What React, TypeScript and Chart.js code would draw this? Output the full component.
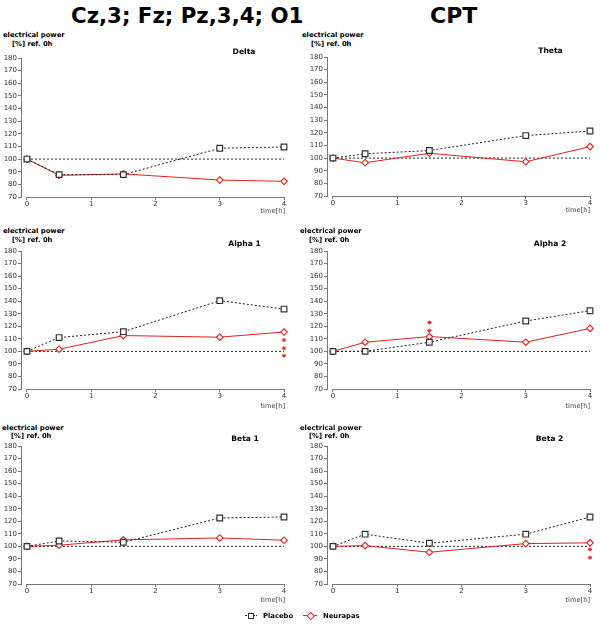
import React, { useEffect, useRef } from "react";
import { Chart, registerables } from "chart.js";
Chart.register(...registerables);

// ---------- data ----------
const TIMES = [0, 0.5, 1.5, 3, 4];
const X_TICKS = [0, 1, 2, 3, 4];
const Y_MIN = 70;
const Y_MAX = 180;
const Y_STEP = 10;
const REF_VALUE = 100;

const PANEL_TITLES = ["Delta", "Theta", "Alpha 1", "Alpha 2", "Beta 1", "Beta 2"];
const SERIES_NAMES = ["Placebo", "Neurapas"];

const deltaPlacebo = [100, 87.7, 87.7, 108.6, 109.6];
const deltaNeurapas = [100, 87.1, 88.3, 83.4, 82.4];
const thetaPlacebo = [100, 103.4, 106, 117.8, 121.4];
const thetaNeurapas = [100, 96.3, 103.8, 97.1, 109.1];
const alpha1Placebo = [100, 111, 115.7, 140.4, 133.7];
const alpha1Neurapas = [100, 101.7, 112.6, 111.3, 115.4];
const alpha2Placebo = [100, 100, 107.3, 124.2, 132.4];
const alpha2Neurapas = [100, 107.3, 111.8, 107.3, 118.3];
const beta1Placebo = [100, 104.3, 103.3, 122.6, 123.4];
const beta1Neurapas = [100, 100.9, 105.2, 106.7, 104.9];
const beta2Placebo = [100, 109.7, 102.5, 109.7, 123.4];
const beta2Neurapas = [100, 100.6, 95.3, 102.2, 102.8];

// significance asterisks (time, values)
const alpha1StarTime = 4;
const alpha1StarValues = [109, 102.5, 96.5];
const alpha2StarTime = 1.5;
const alpha2StarValues = [123, 116.5];
const beta2StarTime = 4;
const beta2StarValues = [97.5, 91];

// ---------- styles / layout ----------
const FONT = "'DejaVu Sans', Verdana, sans-serif";
const RED = "#e3211c";
const AXIS = "#777";
const X_LEFT_PAD = 0.093;

const PANEL_DATA = [
  { title: PANEL_TITLES[0], placebo: deltaPlacebo, neurapas: deltaNeurapas, starTime: null as number | null, stars: [] as number[] },
  { title: PANEL_TITLES[1], placebo: thetaPlacebo, neurapas: thetaNeurapas, starTime: null, stars: [] },
  { title: PANEL_TITLES[2], placebo: alpha1Placebo, neurapas: alpha1Neurapas, starTime: alpha1StarTime, stars: alpha1StarValues },
  { title: PANEL_TITLES[3], placebo: alpha2Placebo, neurapas: alpha2Neurapas, starTime: alpha2StarTime, stars: alpha2StarValues },
  { title: PANEL_TITLES[4], placebo: beta1Placebo, neurapas: beta1Neurapas, starTime: null, stars: [] },
  { title: PANEL_TITLES[5], placebo: beta2Placebo, neurapas: beta2Neurapas, starTime: beta2StarTime, stars: beta2StarValues },
];

// layout per panel: chart area top/bottom, column
const PANEL_LAYOUT = [
  { col: 0, top: 58, bottom: 197 },
  { col: 1, top: 57, bottom: 196 },
  { col: 0, top: 251, bottom: 389 },
  { col: 1, top: 251, bottom: 389 },
  { col: 0, top: 446, bottom: 584 },
  { col: 1, top: 446, bottom: 584 },
];
const COL_CANVAS_LEFT = [0, 306];
const COL_CANVAS_W = [300, 294];
const COL_RIGHT_X = [284, 590];
const Y_AXIS_W = 21;
const PAD_TOP = 8;
const X_AXIS_H = 16;

const xAxisLine = {
  id: "xAxisLine",
  beforeDatasetsDraw(chart: any) {
    const { ctx, chartArea, scales } = chart;
    const x = scales.x;
    const y = Math.round(chartArea.bottom) + 0.5;
    ctx.save();
    ctx.strokeStyle = AXIS;
    ctx.lineWidth = 1;
    ctx.beginPath();
    ctx.moveTo(Math.round(x.getPixelForValue(X_TICKS[0])), y);
    ctx.lineTo(Math.round(x.getPixelForValue(X_TICKS[X_TICKS.length - 1])) + 1, y);
    ctx.stroke();
    ctx.restore();
  },
};

function Panel({ index }: { index: number }) {
  const ref = useRef<HTMLCanvasElement>(null);
  const lay = PANEL_LAYOUT[index];
  const d = PANEL_DATA[index];
  const left = COL_CANVAS_LEFT[lay.col];
  const w = COL_CANVAS_W[lay.col];
  const top = lay.top - PAD_TOP;
  const h = lay.bottom - lay.top + PAD_TOP + X_AXIS_H;
  const padRight = left + w - COL_RIGHT_X[lay.col];

  useEffect(() => {
    const datasets: any[] = [];
    if (d.starTime !== null) {
      datasets.push({
        label: "stars",
        data: d.stars.map((v) => ({ x: d.starTime, y: v })),
        showLine: false,
        pointStyle: "star",
        pointRadius: 2,
        pointBorderColor: RED,
        pointBorderWidth: 1,
        borderColor: RED,
        clip: false,
      });
    }
    datasets.push({
      label: SERIES_NAMES[0],
      data: TIMES.map((t, i) => ({ x: t, y: d.placebo[i] })),
      borderColor: "#222",
      borderWidth: 1,
      borderDash: [2, 2],
      pointStyle: "rect",
      pointRadius: 4,
      pointBorderColor: "#333",
      pointBorderWidth: 1.2,
      pointBackgroundColor: "#fff",
      tension: 0,
      clip: false,
    });
    datasets.push({
      label: SERIES_NAMES[1],
      data: TIMES.map((t, i) => ({ x: t, y: d.neurapas[i] })),
      borderColor: RED,
      borderWidth: 1,
      pointStyle: "rectRot",
      pointRadius: 3.3,
      pointBorderColor: RED,
      pointBorderWidth: 1.1,
      pointBackgroundColor: "#fff",
      tension: 0,
      clip: false,
    });
    datasets.push({
      label: "ref",
      data: [
        { x: X_TICKS[0], y: REF_VALUE },
        { x: X_TICKS[X_TICKS.length - 1], y: REF_VALUE },
      ],
      borderColor: "#222",
      borderWidth: 1,
      borderDash: [2, 2],
      pointRadius: 0,
      clip: false,
    });

    const chart = new Chart(ref.current!, {
      type: "line",
      data: { datasets },
      plugins: [xAxisLine],
      options: {
        animation: false,
        responsive: false,
        layout: { padding: { top: PAD_TOP, right: padRight, left: 0, bottom: 0 } },
        plugins: { legend: { display: false }, tooltip: { enabled: false } },
        scales: {
          x: {
            type: "linear",
            min: -X_LEFT_PAD,
            max: X_TICKS[X_TICKS.length - 1],
            afterBuildTicks: (s: any) => {
              s.ticks = X_TICKS.map((v) => ({ value: v }));
            },
            afterFit: (s: any) => {
              s.height = X_AXIS_H;
            },
            grid: { display: true, drawOnChartArea: false, drawTicks: true, tickLength: 3, color: AXIS },
            border: { display: false },
            ticks: { padding: 0, font: { family: FONT, size: 7 }, color: "#333", maxRotation: 0, autoSkip: false },
          },
          y: {
            type: "linear",
            min: Y_MIN,
            max: Y_MAX,
            afterFit: (s: any) => {
              s.width = Y_AXIS_W;
            },
            grid: { display: true, drawOnChartArea: false, drawTicks: true, tickLength: 3, color: AXIS },
            border: { display: true, color: AXIS },
            ticks: { stepSize: Y_STEP, autoSkip: false, padding: 1, font: { family: FONT, size: 7 }, color: "#333" },
          },
        },
      } as any,
    });
    return () => chart.destroy();
  }, []);

  return (
    <canvas
      ref={ref}
      width={w}
      height={h}
      style={{ position: "absolute", left, top, width: w, height: h }}
    />
  );
}

type TextItem = { t: string; x: number; y: number; size: number; bold?: boolean; align?: "left" | "center" | "right"; color?: string };

const TEXTS: TextItem[] = [
  { t: "Cz,3; Fz; Pz,3,4; O1", x: 71, y: 16, size: 21.3, bold: true },
  { t: "CPT", x: 430, y: 16, size: 22, bold: true },
  // axis titles
  { t: "electrical power", x: 3, y: 35, size: 6.8, bold: true },
  { t: "[%] ref. 0h", x: 12, y: 44, size: 6.8, bold: true },
  { t: "electrical power", x: 302, y: 35, size: 6.8, bold: true },
  { t: "[%] ref. 0h", x: 311, y: 44, size: 6.8, bold: true },
  { t: "electrical power", x: 3, y: 230.5, size: 6.8, bold: true },
  { t: "[%] ref. 0h", x: 12, y: 239.5, size: 6.8, bold: true },
  { t: "electrical power", x: 300, y: 230.5, size: 6.8, bold: true },
  { t: "[%] ref. 0h", x: 309, y: 239.5, size: 6.8, bold: true },
  { t: "electrical power", x: 2, y: 427.5, size: 6.8, bold: true },
  { t: "[%] ref. 0h", x: 11, y: 435.5, size: 6.8, bold: true },
  { t: "electrical power", x: 300, y: 427.5, size: 6.8, bold: true },
  { t: "[%] ref. 0h", x: 309, y: 435.5, size: 6.8, bold: true },
  // panel titles
  { t: PANEL_TITLES[0], x: 244, y: 52, size: 7.6, bold: true, align: "center" },
  { t: PANEL_TITLES[1], x: 550.5, y: 51, size: 7.6, bold: true, align: "center" },
  { t: PANEL_TITLES[2], x: 244.5, y: 244, size: 7.6, bold: true, align: "center" },
  { t: PANEL_TITLES[3], x: 550, y: 244, size: 7.6, bold: true, align: "center" },
  { t: PANEL_TITLES[4], x: 245, y: 439, size: 7.6, bold: true, align: "center" },
  { t: PANEL_TITLES[5], x: 549.5, y: 439, size: 7.6, bold: true, align: "center" },
  // x axis titles
  { t: "time[h]", x: 285, y: 210.5, size: 6.7, align: "right", color: "#444" },
  { t: "time[h]", x: 590, y: 210, size: 6.7, align: "right", color: "#444" },
  { t: "time[h]", x: 285, y: 406, size: 6.7, align: "right", color: "#444" },
  { t: "time[h]", x: 590, y: 406, size: 6.7, align: "right", color: "#444" },
  { t: "time[h]", x: 285, y: 599.5, size: 6.7, align: "right", color: "#444" },
  { t: "time[h]", x: 590, y: 599.5, size: 6.7, align: "right", color: "#444" },
  // legend
  { t: SERIES_NAMES[0], x: 263, y: 615.5, size: 6.8, bold: true },
  { t: SERIES_NAMES[1], x: 323, y: 615.5, size: 6.8, bold: true },
];

function Label({ it }: { it: TextItem }) {
  const tx = it.align === "center" ? "-50%" : it.align === "right" ? "-100%" : "0";
  return (
    <div
      style={{
        position: "absolute",
        left: it.x,
        top: it.y,
        transform: `translate(${tx}, -50%)`,
        fontFamily: FONT,
        fontSize: it.size,
        fontWeight: it.bold ? "bold" : "normal",
        lineHeight: 1,
        whiteSpace: "nowrap",
        color: it.color || "#000",
      }}
    >
      {it.t}
    </div>
  );
}

function LegendMarks() {
  return (
    <>
      <div style={{ position: "absolute", left: 245, top: 615, width: 12, height: 0, borderTop: "1px dotted #222" }} />
      <div
        style={{
          position: "absolute",
          left: 247.5,
          top: 612.5,
          width: 4,
          height: 4,
          border: "1px solid #333",
          background: "#fff",
        }}
      />
      <div style={{ position: "absolute", left: 303, top: 615, width: 14, height: 0, borderTop: `1px solid ${RED}` }} />
      <div
        style={{
          position: "absolute",
          left: 308,
          top: 613,
          width: 3.5,
          height: 3.5,
          border: `1px solid ${RED}`,
          background: "#fff",
          transform: "rotate(45deg)",
        }}
      />
    </>
  );
}

export default function App() {
  return (
    <div style={{ position: "absolute", left: 0, top: 0, width: 600, height: 631, background: "#fff", overflow: "hidden" }}>
      {PANEL_DATA.map((_, i) => (
        <Panel key={i} index={i} />
      ))}
      {TEXTS.map((it, i) => (
        <Label key={i} it={it} />
      ))}
      <LegendMarks />
    </div>
  );
}
